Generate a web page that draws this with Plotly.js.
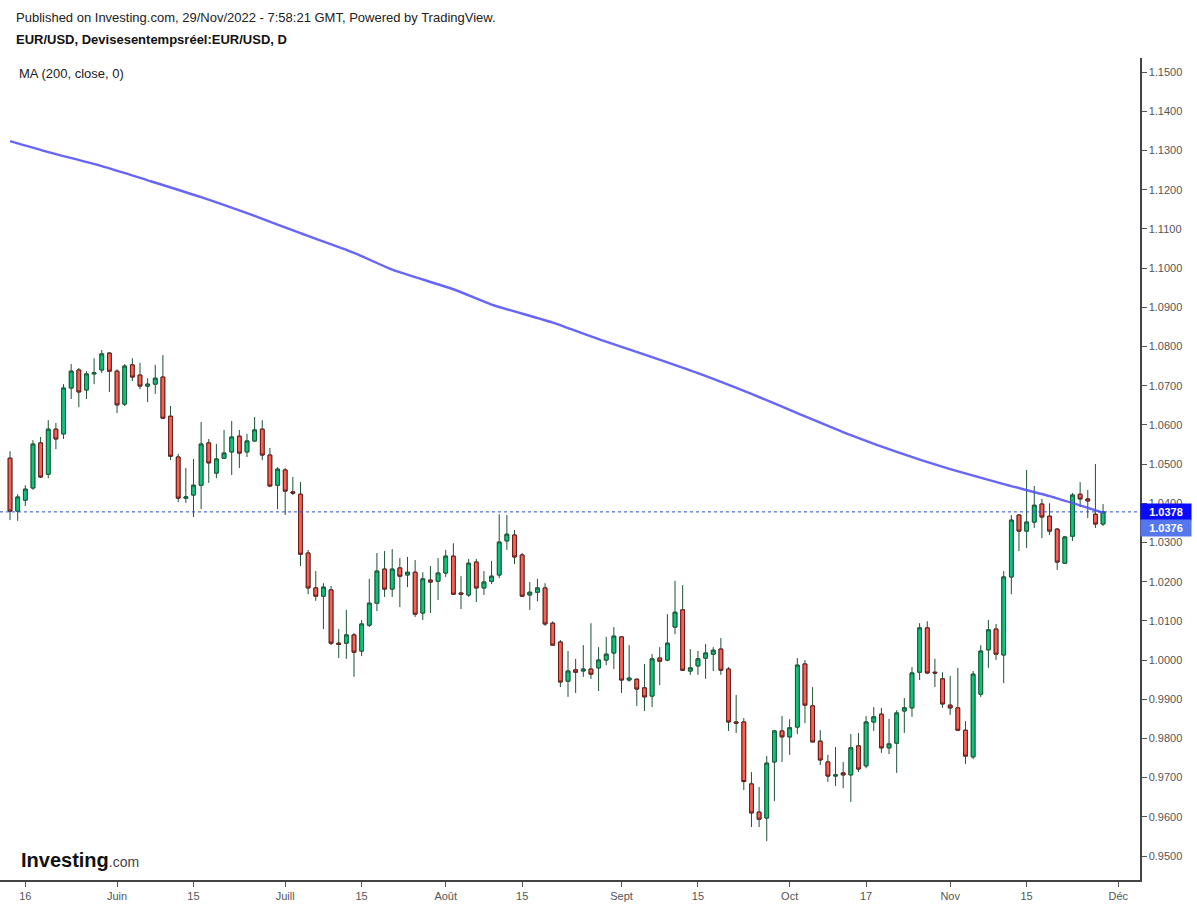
<!DOCTYPE html>
<html>
<head>
<meta charset="utf-8">
<script src="https://cdn.plot.ly/plotly-3.0.1.min.js"></script>
<style>
  html, body { margin: 0; padding: 0; background: #ffffff; }
  #chart { width: 1197px; height: 907px; }
</style>
</head>
<body>
<div id="chart"></div>
<script>
// ---- Data ----
const dates = [
 '2022-05-12','2022-05-13',
 '2022-05-16','2022-05-17','2022-05-18','2022-05-19','2022-05-20',
 '2022-05-23','2022-05-24','2022-05-25','2022-05-26','2022-05-27',
 '2022-05-30','2022-05-31','2022-06-01','2022-06-02','2022-06-03',
 '2022-06-06','2022-06-07','2022-06-08','2022-06-09','2022-06-10',
 '2022-06-13','2022-06-14','2022-06-15','2022-06-16','2022-06-17',
 '2022-06-20','2022-06-21','2022-06-22','2022-06-23','2022-06-24',
 '2022-06-27','2022-06-28','2022-06-29','2022-06-30','2022-07-01',
 '2022-07-04','2022-07-05','2022-07-06','2022-07-07','2022-07-08',
 '2022-07-11','2022-07-12','2022-07-13','2022-07-14','2022-07-15',
 '2022-07-18','2022-07-19','2022-07-20','2022-07-21','2022-07-22',
 '2022-07-25','2022-07-26','2022-07-27','2022-07-28','2022-07-29',
 '2022-08-01','2022-08-02','2022-08-03','2022-08-04','2022-08-05',
 '2022-08-08','2022-08-09','2022-08-10','2022-08-11','2022-08-12',
 '2022-08-15','2022-08-16','2022-08-17','2022-08-18','2022-08-19',
 '2022-08-22','2022-08-23','2022-08-24','2022-08-25','2022-08-26',
 '2022-08-29','2022-08-30','2022-08-31','2022-09-01','2022-09-02',
 '2022-09-05','2022-09-06','2022-09-07','2022-09-08','2022-09-09',
 '2022-09-12','2022-09-13','2022-09-14','2022-09-15','2022-09-16',
 '2022-09-19','2022-09-20','2022-09-21','2022-09-22','2022-09-23',
 '2022-09-26','2022-09-27','2022-09-28','2022-09-29','2022-09-30',
 '2022-10-03','2022-10-04','2022-10-05','2022-10-06','2022-10-07',
 '2022-10-10','2022-10-11','2022-10-12','2022-10-13','2022-10-14',
 '2022-10-17','2022-10-18','2022-10-19','2022-10-20','2022-10-21',
 '2022-10-24','2022-10-25','2022-10-26','2022-10-27','2022-10-28',
 '2022-10-31','2022-11-01','2022-11-02','2022-11-03','2022-11-04',
 '2022-11-07','2022-11-08','2022-11-09','2022-11-10','2022-11-11',
 '2022-11-14','2022-11-15','2022-11-16','2022-11-17','2022-11-18',
 '2022-11-21','2022-11-22','2022-11-23','2022-11-24','2022-11-25',
 '2022-11-28','2022-11-29'
];
const openP = [
 1.0515,1.0380,
 1.0408,1.0439,1.0554,1.0474,1.0589,
 1.0577,1.0694,1.0740,1.0689,1.0730,
 1.0740,1.0783,1.0737,1.0653,1.0753,
 1.0727,1.0699,1.0704,1.0722,1.0622,
 1.0518,1.0413,1.0421,1.0446,1.0554,
 1.0477,1.0515,1.0531,1.0571,1.0531,
 1.0559,1.0589,1.0523,1.0446,1.0485,
 1.0429,1.0423,1.0273,1.0184,1.0163,
 1.0179,1.0043,1.0043,1.0064,1.0023,
 1.0089,1.0145,1.0232,1.0181,1.0235,
 1.0217,1.0224,1.0120,1.0204,1.0201,
 1.0222,1.0265,1.0171,1.0166,1.0250,
 1.0184,1.0201,1.0217,1.0304,1.0319,
 1.0268,1.0166,1.0173,1.0184,1.0094,
 1.0046,0.9946,0.9975,0.9972,0.9977,
 0.9980,1.0000,1.0018,1.0059,0.9949,
 0.9951,0.9929,0.9908,1.0005,1.0000,
 1.0084,1.0128,0.9972,0.9985,1.0005,
 1.0015,1.0028,0.9977,0.9842,0.9842,
 0.9684,0.9612,0.9597,0.9740,0.9819,
 0.9804,0.9829,0.9990,0.9883,0.9793,
 0.9740,0.9704,0.9712,0.9707,0.9781,
 0.9730,0.9842,0.9862,0.9776,0.9788,
 0.9870,0.9878,0.9969,1.0082,0.9969,
 0.9952,0.9885,0.9878,0.9821,0.9753,
 0.9913,1.0026,1.0079,1.0013,1.0212,
 1.0370,1.0329,1.0352,1.0398,1.0367,
 1.0334,1.0247,1.0316,1.0423,1.0411,
 1.0372,1.0347
];
const highP = [
 1.0533,1.0423,
 1.0446,1.0561,1.0569,1.0612,1.0605,
 1.0704,1.0755,1.0745,1.0737,1.0770,
 1.0791,1.0786,1.0742,1.0755,1.0770,
 1.0758,1.0719,1.0753,1.0778,1.0648,
 1.0526,1.0490,1.0513,1.0607,1.0564,
 1.0551,1.0587,1.0610,1.0587,1.0577,
 1.0620,1.0612,1.0541,1.0492,1.0490,
 1.0467,1.0454,1.0281,1.0227,1.0196,
 1.0189,1.0079,1.0128,1.0069,1.0102,
 1.0207,1.0273,1.0278,1.0283,1.0260,
 1.0263,1.0255,1.0224,1.0240,1.0260,
 1.0281,1.0298,1.0214,1.0258,1.0258,
 1.0227,1.0253,1.0372,1.0370,1.0332,
 1.0273,1.0199,1.0207,1.0196,1.0099,
 1.0051,1.0023,1.0003,1.0038,1.0094,
 1.0033,1.0059,1.0084,1.0061,1.0038,
 0.9953,0.9990,1.0015,1.0033,1.0117,
 1.0202,1.0191,1.0028,1.0023,1.0041,
 1.0033,1.0056,0.9982,0.9911,0.9852,
 0.9714,0.9676,0.9755,0.9822,0.9857,
 0.9849,1.0005,1.0000,0.9931,0.9821,
 0.9758,0.9778,0.9740,0.9811,0.9814,
 0.9857,0.9880,0.9878,0.9850,0.9872,
 0.9903,0.9982,1.0094,1.0099,1.0003,
 0.9969,0.9959,0.9980,0.9844,0.9972,
 1.0038,1.0102,1.0092,1.0227,1.0370,
 1.0372,1.0485,1.0444,1.0411,1.0400,
 1.0337,1.0316,1.0426,1.0454,1.0434,
 1.0500,1.0398
];
const lowP = [
 1.0357,1.0355,
 1.0393,1.0434,1.0464,1.0464,1.0538,
 1.0564,1.0666,1.0645,1.0666,1.0704,
 1.0732,1.0684,1.0630,1.0648,1.0712,
 1.0691,1.0658,1.0679,1.0617,1.0510,
 1.0403,1.0401,1.0365,1.0385,1.0452,
 1.0464,1.0513,1.0472,1.0490,1.0518,
 1.0556,1.0510,1.0441,1.0385,1.0370,
 1.0421,1.0240,1.0168,1.0151,1.0079,
 1.0038,1.0005,1.0003,0.9957,1.0010,
 1.0084,1.0125,1.0161,1.0161,1.0135,
 1.0186,1.0110,1.0102,1.0120,1.0153,
 1.0212,1.0168,1.0130,1.0161,1.0148,
 1.0166,1.0194,1.0209,1.0281,1.0245,
 1.0161,1.0128,1.0150,1.0087,1.0038,
 0.9931,0.9906,0.9916,0.9957,0.9952,
 0.9921,0.9987,0.9977,0.9916,0.9945,
 0.9883,0.9870,0.9880,0.9936,0.9997,
 1.0066,0.9972,0.9962,0.9962,0.9952,
 0.9972,0.9962,0.9819,0.9814,0.9668,
 0.9574,0.9574,0.9538,0.9640,0.9740,
 0.9758,0.9811,0.9839,0.9791,0.9732,
 0.9689,0.9679,0.9673,0.9638,0.9714,
 0.9724,0.9819,0.9763,0.9760,0.9712,
 0.9814,0.9855,0.9949,0.9964,0.9931,
 0.9878,0.9860,0.9819,0.9735,0.9747,
 0.9906,0.9980,1.0000,0.9941,1.0168,
 1.0278,1.0286,1.0337,1.0311,1.0319,
 1.0230,1.0247,1.0304,1.0390,1.0362,
 1.0337,1.0342
];
const closeP = [
 1.0380,1.0416,
 1.0436,1.0551,1.0467,1.0589,1.0564,
 1.0694,1.0737,1.0684,1.0730,1.0733,
 1.0781,1.0737,1.0651,1.0750,1.0722,
 1.0699,1.0704,1.0719,1.0617,1.0520,
 1.0413,1.0416,1.0446,1.0551,1.0503,
 1.0513,1.0528,1.0569,1.0528,1.0559,
 1.0587,1.0523,1.0444,1.0487,1.0431,
 1.0426,1.0270,1.0184,1.0163,1.0186,
 1.0043,1.0040,1.0064,1.0020,1.0092,
 1.0145,1.0227,1.0181,1.0232,1.0214,
 1.0224,1.0117,1.0207,1.0199,1.0222,
 1.0265,1.0168,1.0168,1.0247,1.0184,
 1.0199,1.0214,1.0301,1.0321,1.0263,
 1.0163,1.0173,1.0184,1.0092,1.0038,
 0.9944,0.9972,0.9969,0.9977,0.9964,
 1.0000,1.0015,1.0061,0.9949,0.9954,
 0.9926,0.9906,1.0003,0.9997,1.0043,
 1.0122,0.9974,0.9980,1.0003,1.0018,
 1.0025,0.9974,0.9842,0.9839,0.9690,
 0.9610,0.9594,0.9737,0.9819,0.9804,
 0.9827,0.9987,0.9885,0.9791,0.9745,
 0.9704,0.9707,0.9707,0.9776,0.9722,
 0.9842,0.9855,0.9776,0.9786,0.9865,
 0.9878,0.9967,1.0082,0.9967,0.9967,
 0.9888,0.9878,0.9821,0.9755,0.9964,
 1.0023,1.0077,1.0015,1.0212,1.0357,
 1.0329,1.0352,1.0395,1.0365,1.0329,
 1.0250,1.0314,1.0421,1.0411,1.0406,
 1.0347,1.0378
];
// MA(200) line, values read at selected dates
const maDates = ['2022-05-12','2022-05-19','2022-05-30','2022-06-07','2022-06-16','2022-06-27',
 '2022-07-05','2022-07-14','2022-07-21','2022-08-02','2022-08-09','2022-08-19','2022-08-29',
 '2022-09-07','2022-09-15','2022-09-26','2022-10-04','2022-10-13','2022-10-21','2022-11-01',
 '2022-11-10','2022-11-18','2022-11-29'];
const maValues = [1.1324,1.1296,1.1260,1.1224,1.1181,1.1133,
 1.1089,1.1039,1.0996,1.0946,1.0907,1.0861,1.0819,
 1.0773,1.0732,1.0679,1.0630,1.0574,1.0531,1.0487,
 1.0449,1.0418,1.0376];
const lastPrice = 1.0378;
const lastMA = 1.0376;
const yTickVals = [0.95,0.96,0.97,0.98,0.99,1.00,1.01,1.02,1.03,1.04,1.05,1.06,1.07,1.08,1.09,1.10,1.11,1.12,1.13,1.14,1.15];
const xTickVals = ['2022-05-16','2022-06-01','2022-06-15','2022-07-01','2022-07-15','2022-08-01','2022-08-15',
 '2022-09-01','2022-09-15','2022-10-03','2022-10-17','2022-11-01','2022-11-15','2022-12-01'];
const xTickText = ['16','Juin','15','Juill','15','Août','15','Sept','15','Oct','17','Nov','15','Déc'];

// ---- Traces ----
const bodyHigh = openP.map((o,i) => Math.max(o, closeP[i]));
const bodyLow = openP.map((o,i) => Math.min(o, closeP[i]));
const wickColor = '#1e5236';

const maTrace = {
  type: 'scatter', mode: 'lines', x: maDates, y: maValues,
  line: {color: 'rgba(85,85,250,0.9)', width: 2.4, shape: 'spline', smoothing: 0.6},
  hoverinfo: 'skip', showlegend: false
};
const wickTrace = {
  type: 'candlestick', x: dates, open: openP, high: highP, low: lowP, close: closeP,
  increasing: {line: {color: wickColor, width: 1}, fillcolor: wickColor},
  decreasing: {line: {color: wickColor, width: 1}, fillcolor: wickColor},
  whiskerwidth: 0, showlegend: false, hoverinfo: 'skip'
};
const bodyTrace = {
  type: 'candlestick', x: dates, open: openP, high: bodyHigh, low: bodyLow, close: closeP,
  increasing: {line: {color: '#1b5a3a', width: 1}, fillcolor: '#0cc57a'},
  decreasing: {line: {color: '#6b1a1a', width: 1}, fillcolor: '#fa6155'},
  whiskerwidth: 0, showlegend: false
};

const font = 'Arial, "Liberation Sans", sans-serif';
const plotH = 907 - 58 - 27;
const py = p => (880 - p) / plotH;
const px = p => p / 1140;

const layout = {
  width: 1197, height: 907,
  margin: {l: 0, r: 57, t: 58, b: 27, pad: 0},
  paper_bgcolor: '#ffffff', plot_bgcolor: '#ffffff',
  showlegend: false,
  font: {family: font, size: 11, color: '#555555'},
  xaxis: {
    type: 'date',
    rangebreaks: [{bounds: ['sat', 'mon']}],
    range: ['2022-05-10 16:30', '2022-12-05 20:00'],
    rangeslider: {visible: false},
    tickvals: xTickVals, ticktext: xTickText,
    ticks: 'outside', ticklen: 5, tickcolor: '#555555', tickwidth: 1,
    showline: true, linecolor: '#444444', linewidth: 1.5,
    showgrid: false, zeroline: false, fixedrange: true,
    tickfont: {family: font, size: 11, color: '#555555'}
  },
  yaxis: {
    side: 'right',
    range: [0.94388, 1.1536],
    tickvals: yTickVals,
    ticktext: yTickVals.map(v => v.toFixed(4)),
    ticks: 'outside', ticklen: 5, tickcolor: '#555555', tickwidth: 1,
    showline: true, linecolor: '#444444', linewidth: 1.5,
    showgrid: false, zeroline: false, fixedrange: true,
    tickfont: {family: font, size: 11, color: '#555555'}
  },
  shapes: [
    {type: 'line', xref: 'paper', x0: 0, x1: 1, yref: 'y', y0: lastPrice, y1: lastPrice,
     line: {color: '#2a4fd0', width: 1, dash: 'dot'}}
  ],
  annotations: [
    {xref: 'paper', yref: 'paper', x: px(14), y: py(17), xanchor: 'left', yanchor: 'middle', showarrow: false,
     text: 'Published on Investing.com, 29/Nov/2022 - 7:58:21 GMT, Powered by TradingView.',
     font: {family: font, size: 13, color: '#222222'}},
    {xref: 'paper', yref: 'paper', x: px(14), y: py(40), xanchor: 'left', yanchor: 'middle', showarrow: false,
     text: '<b>EUR/USD, Devisesentempsréel:EUR/USD, D</b>',
     font: {family: font, size: 13, color: '#111111'}},
    {xref: 'paper', yref: 'paper', x: px(17), y: py(73), xanchor: 'left', yanchor: 'middle', showarrow: false,
     text: 'MA (200, close, 0)',
     font: {family: font, size: 13, color: '#222222'}},
    {xref: 'paper', yref: 'paper', x: px(19), y: py(860), xanchor: 'left', yanchor: 'middle', showarrow: false,
     text: '<b>Investing</b><span style="font-size:14px;color:#444">.com</span>',
     font: {family: font, size: 20, color: '#111111'}},
    {xref: 'paper', yref: 'y', x: 1, y: lastPrice, xanchor: 'left', yanchor: 'middle', showarrow: false,
     text: '<b>' + lastPrice.toFixed(4) + '</b>', bgcolor: '#0a0aff', borderpad: 2, width: 46, align: 'center',
     font: {family: font, size: 11, color: '#ffffff'}},
    {xref: 'paper', yref: 'y', x: 1, y: lastMA, yshift: -15, xanchor: 'left', yanchor: 'middle', showarrow: false,
     text: '<b>' + lastMA.toFixed(4) + '</b>', bgcolor: '#5577ee', borderpad: 2, width: 46, align: 'center',
     font: {family: font, size: 11, color: '#ffffff'}}
  ]
};

Plotly.newPlot('chart', [maTrace, wickTrace, bodyTrace], layout, {displayModeBar: false, staticPlot: true});
</script>
</body>
</html>
